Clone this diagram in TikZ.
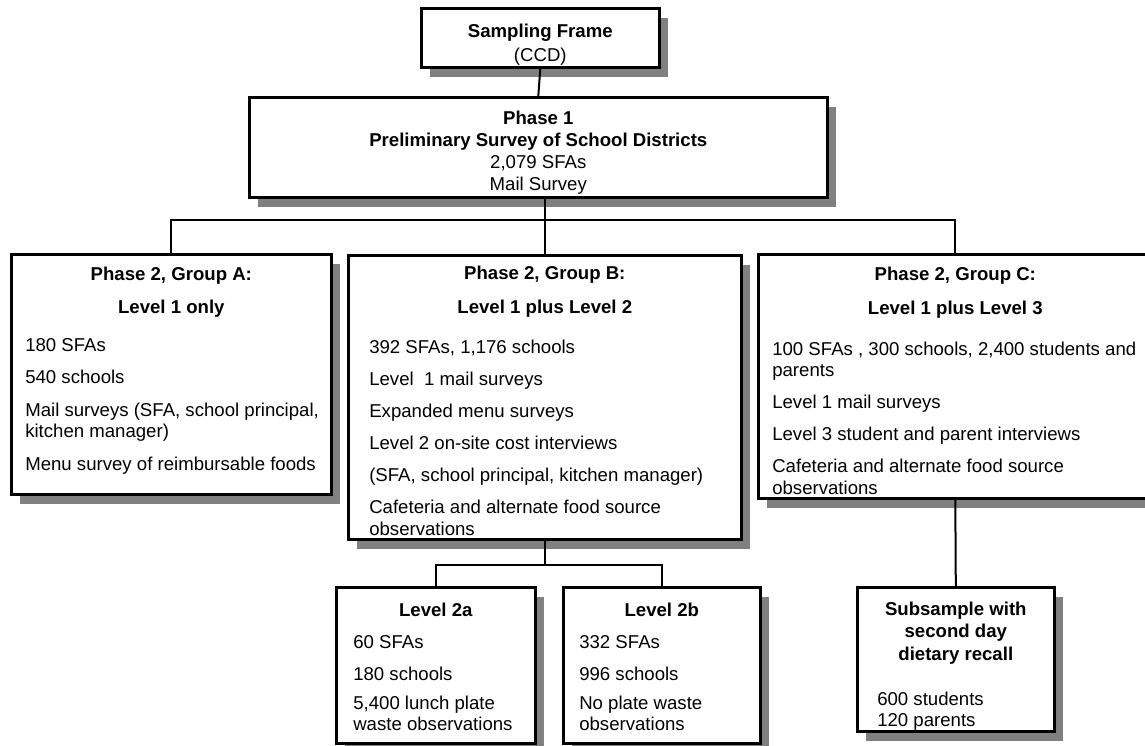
\documentclass[tikz,border=0pt]{standalone}
\usepackage{fontspec}
\setmainfont{Liberation Sans}
\usetikzlibrary{shadows}

\definecolor{shadowgray}{RGB}{128,128,128}

% box text: width, height, first baseline below the top, contents
\newcommand{\panelbox}[4]{\parbox[c][#2][t]{#1}{\vspace*{\dimexpr#3-15.05pt\relax}#4}}
\newcommand{\panelhead}[1]{{\centering\bfseries\strut#1\par}}
\newcommand{\paneltext}[2]{{\raggedright\leftskip=#1\strut#2\par}}

\tikzset{
  panel/.style={draw, line width=2.6pt, fill=white, inner sep=0pt, anchor=north west,
    font=\fontsize{18.6pt}{21.5pt}\selectfont,
    drop shadow={shadow xshift=9pt, shadow yshift=-10pt, fill=shadowgray, opacity=1}},
  link/.style={line width=2pt},
}

\begin{document}
\begin{tikzpicture}[x=1pt, y=-1pt]
\useasboundingbox (0,0) rectangle (1145,746);

% frame and phase 1
\node[panel] (frame) at (420,7) {\panelbox{238pt}{59pt}{29pt}{{\centering\strut\textbf{Sampling Frame}\\[2.5pt] (CCD)\par}}};
\node[panel] (phase1) at (248,96) {\panelbox{578pt}{100pt}{27.3pt}{{\centering\strut\textbf{Phase 1}\\[0.5pt]
  \textbf{Preliminary Survey of School Districts}\\[0.5pt] 2,079 SFAs\\[0.5pt] Mail Survey\par}}};

% phase 2 groups
\node[panel] (grpA) at (10,253) {\panelbox{320pt}{240pt}{25.7pt}{%
  \panelhead{Phase 2, Group A:\\[12.3pt] Level 1 only}\vspace{16pt}%
  \paneltext{14pt}{180 SFAs\\[11pt] 540 schools\\[11pt] Mail surveys (SFA, school principal,\\ kitchen manager)\\[11pt]
  Menu survey of reimbursable foods}}};
\node[panel] (grpB) at (347,254) {\panelbox{393pt}{284pt}{24.5pt}{%
  \panelhead{Phase 2, Group B:\\[12.5pt] Level 1 plus Level 2}\vspace{18.5pt}%
  \paneltext{21pt}{392 SFAs, 1,176 schools\\[10.5pt] Level\ \ 1 mail surveys\\[10.5pt] Expanded menu surveys\\[10.5pt]
  Level 2 on-site cost interviews\\[10.5pt] (SFA, school principal, kitchen manager)\\[10.5pt]
  Cafeteria and alternate food source\\ observations}}};
\node[panel] (grpC) at (757,253) {\panelbox{394pt}{244pt}{26pt}{%
  \panelhead{Phase 2, Group C:\\[12.5pt] Level 1 plus Level 3}\vspace{19.5pt}%
  \paneltext{14pt}{100 SFAs , 300 schools, 2,400 students and\\ parents\\[10.5pt] Level 1 mail surveys\\[10.5pt]
  Level 3 student and parent interviews\\[10.5pt] Cafeteria and alternate food source\\ observations}}};

% level 2 split and subsample
\node[panel] (lvA) at (335,586) {\panelbox{199pt}{156pt}{29pt}{%
  \panelhead{Level 2a}\vspace{10.5pt}%
  \paneltext{17pt}{60 SFAs\\[10.5pt] 180 schools\\[7.5pt] 5,400 lunch plate\\ waste observations}}};
\node[panel] (lvB) at (562,586) {\panelbox{197pt}{156pt}{29pt}{%
  \panelhead{Level 2b}\vspace{10.5pt}%
  \paneltext{16pt}{332 SFAs\\[10.5pt] 996 schools\\[7.5pt] No plate waste\\ observations}}};
\node[panel] (sub) at (856,586) {\panelbox{197pt}{144pt}{28pt}{%
  \panelhead{Subsample with\\[1pt] second day\\[1pt] dietary recall}\vspace{23.5pt}%
  \paneltext{20pt}{600 students\\[-0.5pt] 120 parents}}};

% connectors
\draw[link] (frame.south) -- (phase1.north);
\draw[link] (phase1.south -| grpB.north) -- (grpB.north);
\draw[link] (grpA.north) -- ++(0,-33) -| (grpC.north);
\draw[link] (grpB.south) -- ++(0,24) coordinate (split);
\draw[link] (lvA.north) |- (split) -| (lvB.north);
\draw[link] (grpC.south) -- (sub.north);
\end{tikzpicture}
\end{document}
